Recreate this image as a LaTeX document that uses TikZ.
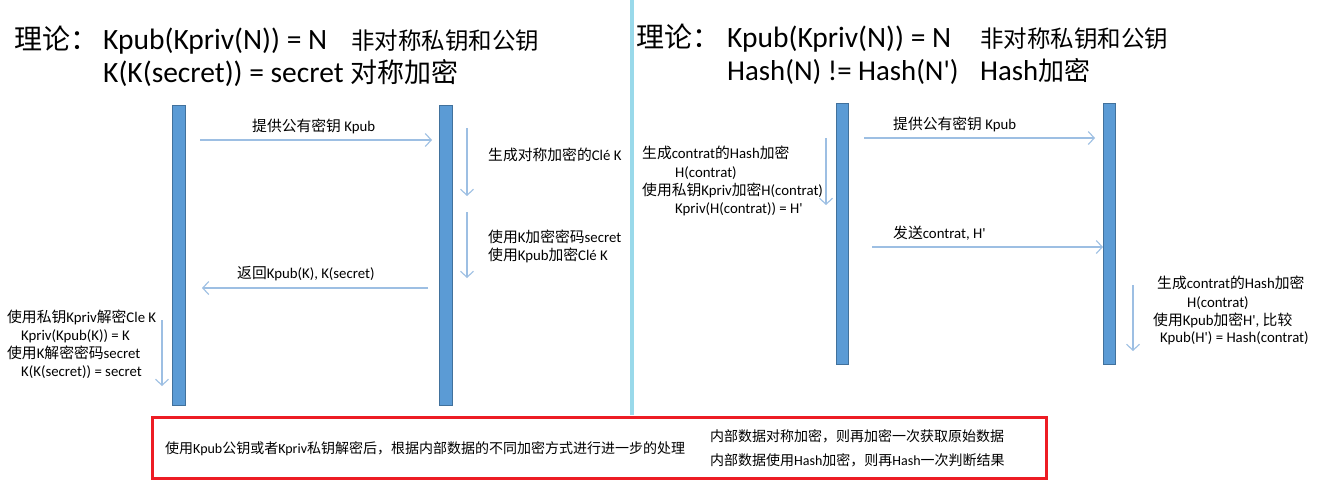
\documentclass[tikz,border=0pt]{standalone}
\usepackage{fontspec}
\setmainfont{Carlito}[Ligatures=TeXOff]
\newfontfamily\cjk{Noto Sans CJK SC}
\usetikzlibrary{arrows.meta}
\newcommand\zh[1]{{\cjk #1}}
\definecolor{barblue}{HTML}{5B9BD5}
\definecolor{bardark}{HTML}{41719C}
\definecolor{arrowblue}{HTML}{9DBFE3}
\definecolor{divider}{HTML}{99D9EA}
\definecolor{boxred}{HTML}{ED1C24}
\tikzset{
  bar/.style={fill=barblue, draw=bardark, line width=0.8pt},
  msg/.style={draw=arrowblue, line width=1.1pt, -{Straight Barb[length=6pt,width=13pt]}},
  lbl/.style={inner sep=0pt, anchor=base west, font=\fontsize{14.8}{18}\selectfont},
  note/.style={inner sep=0pt, anchor=base west, font=\fontsize{14}{18}\selectfont},
  ttl/.style={inner sep=0pt, anchor=base west, font=\fontsize{29.5}{34}\selectfont},
  ttlzh/.style={inner sep=0pt, anchor=base west, font=\fontsize{23.5}{28}\selectfont},
}
\begin{document}
\begin{tikzpicture}[x=1pt,y=-1pt]
\useasboundingbox (0,0) rectangle (1322,496);
\fill[white] (0,0) rectangle (1322,496);

% divider
\fill[divider] (630,0) rectangle (634,415);

% ---------- left titles
\node[ttl] (tL1) at (14,49) {\fontsize{28}{32}\selectfont\zh{理论：}};
\node[ttl] (tL2) at (103,49) {Kpub(Kpriv(N)) = N};
\node[ttlzh] (tL3) at (351,49) {\zh{非对称私钥和公钥}};
\node[ttl] (tL4) at (103,82) {K(K(secret)) = secret \fontsize{27}{32}\selectfont\zh{对称加密}};

% ---------- right titles
\node[ttl] (tR1) at (636,47) {\fontsize{28}{32}\selectfont\zh{理论：}};
\node[ttl] (tR2) at (727,47) {Kpub(Kpriv(N)) = N};
\node[ttlzh] (tR3) at (980,47) {\zh{非对称私钥和公钥}};
\node[ttl] (tR4) at (727,80) {\fontsize{28.8}{34}\selectfont Hash(N) != Hash(N')};
\node[ttl] (tR5) at (980,80) {\fontsize{28.8}{34}\selectfont Hash\fontsize{26}{32}\selectfont\zh{加密}};

% ---------- left lifelines
\draw[bar] (172,105) rectangle (185,405);
\draw[bar] (439,105) rectangle (452,405);

\coordinate (h1s) at (200,140); \coordinate (h1e) at (432,140);
\coordinate (h2s) at (428,288); \coordinate (h2e) at (202,288);
\coordinate (vas) at (467,128); \coordinate (vae) at (467,196);
\coordinate (vbs) at (467,212); \coordinate (vbe) at (467,278);
\coordinate (vcs) at (162,320); \coordinate (vce) at (162,386);
\draw[msg] (h1s) -- (h1e);
\draw[msg] (h2s) -- (h2e);
\draw[msg] (vas) -- (vae);
\draw[msg] (vbs) -- (vbe);
\draw[msg] (vcs) -- (vce);

\node[lbl] (m1) at (252,131.5) {\zh{提供公有密钥} Kpub};
\node[lbl] (m2) at (488,160.5) {\zh{生成对称加密的}Clé K};
\node[lbl] (m3) at (488,242.5) {\zh{使用}K\zh{加密密码}secret};
\node[lbl] (m4) at (488,260.5) {\zh{使用}Kpub\zh{加密}Clé K};
\node[lbl] (m5) at (237,278.5) {\zh{返回}Kpub(K), K(secret)};
\node[lbl] (m6) at (7,322.5) {\zh{使用私钥}Kpriv\zh{解密}Cle K};
\node[lbl] (m7) at (21,340.5) {Kpriv(Kpub(K)) = K};
\node[lbl] (m8) at (7,358.5) {\zh{使用}K\zh{解密密码}secret};
\node[lbl] (m9) at (21,376.5) {K(K(secret)) = secret};

% ---------- right lifelines
\draw[bar] (836,103) rectangle (848,364);
\draw[bar] (1103,103) rectangle (1115,364);

\coordinate (h3s) at (864,138); \coordinate (h3e) at (1095,138);
\coordinate (h4s) at (872,247); \coordinate (h4e) at (1103,247);
\coordinate (vds) at (826,138); \coordinate (vde) at (826,205);
\coordinate (ves) at (1133,285); \coordinate (vee) at (1133,351);
\draw[msg] (h3s) -- (h3e);
\draw[msg] (h4s) -- (h4e);
\draw[msg] (vds) -- (vde);
\draw[msg] (ves) -- (vee);

\node[lbl] (r1) at (893,129.5) {\zh{提供公有密钥} Kpub};
\node[lbl] (r2) at (893,238.5) {\zh{发送}contrat, H'};
\node[lbl] (r3) at (642,158.5) {\zh{生成}contrat\zh{的}Hash\zh{加密}};
\node[lbl] (r4) at (675,177.5) {H(contrat)};
\node[lbl] (r5) at (642,195.5) {\zh{使用私钥}Kpriv\zh{加密}H(contrat)};
\node[lbl] (r6) at (675,213.5) {Kpriv(H(contrat)) = H'};
\node[lbl] (r7) at (1157,288.5) {\zh{生成}contrat\zh{的}Hash\zh{加密}};
\node[lbl] (r8) at (1187,307.5) {H(contrat)};
\node[lbl] (r9) at (1153,325.5) {\zh{使用}Kpub\zh{加密}H', \zh{比较}};
\node[lbl] (r10) at (1160,342.5) {Kpub(H') = Hash(contrat)};

% ---------- bottom note box
\draw[boxred, line width=3pt] (152,417) rectangle (1046,478);
\node[note] (n1) at (165,453) {\zh{使用}Kpub\zh{公钥或者}Kpriv\zh{私钥解密后，根据内部数据的不同加密方式进行进一步的处理}};
\node[note] (n2) at (710,441) {\zh{内部数据对称加密，则再加密一次获取原始数据}};
\node[note] (n3) at (710,465) {\zh{内部数据使用}Hash\zh{加密，则再}Hash\zh{一次判断结果}};
\end{tikzpicture}
\end{document}
